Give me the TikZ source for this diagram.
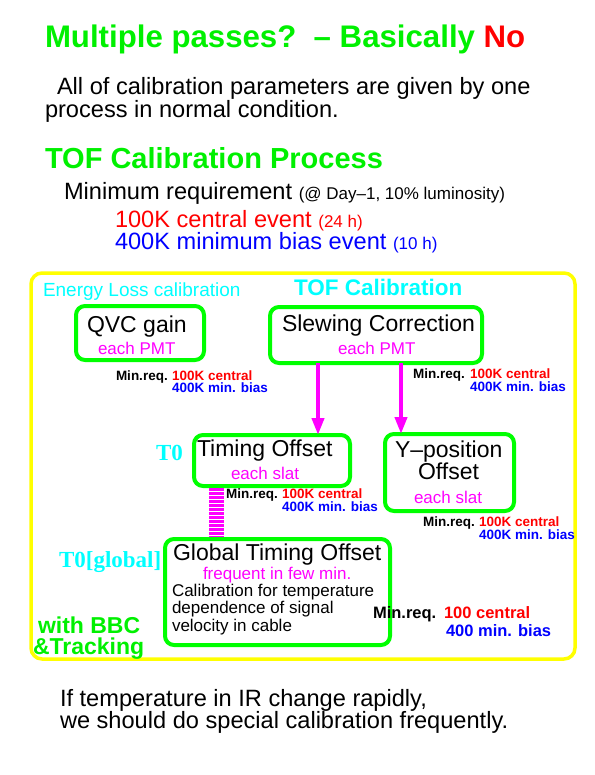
\documentclass[tikz,border=0pt]{standalone}
\usepackage{fontspec}
\setmainfont{Liberation Sans}
\newfontfamily\serifb{Liberation Serif}
\usetikzlibrary{arrows.meta}
\definecolor{lgreen}{RGB}{0,240,0}
\definecolor{bgreen}{RGB}{0,255,0}
\definecolor{cyn}{RGB}{0,255,255}
\definecolor{mag}{RGB}{255,0,255}
\definecolor{rd}{RGB}{255,0,0}
\definecolor{bl}{RGB}{0,0,255}
\definecolor{ylw}{RGB}{255,255,0}
\newcommand\fsz[1]{\fontsize{#1}{#1}\selectfont}
\tikzset{
  txt/.style={anchor=base west, inner sep=0pt, outer sep=0pt},
  gbox/.style={draw=bgreen, line width=4pt, rounded corners=9pt, inner sep=0pt, outer sep=0pt},
  ybox/.style={draw=ylw, line width=3.5pt, rounded corners=11pt, inner sep=0pt, outer sep=0pt},
  arr/.style={draw=mag, line width=4pt, -{Triangle[length=17pt,width=12pt]}},
  stripe/.style={draw=mag, line width=15pt, dash pattern=on 2.5pt off 1.5pt},
  big/.style={font=\fsz{23}},
  main/.style={font=\fsz{23.6}},
  sub/.style={font=\fsz{17}, text=mag},
  mr/.style={font=\fsz{13.5}\bfseries},
  mrb/.style={font=\fsz{16.5}\bfseries},
}
\begin{document}
\begin{tikzpicture}[x=1pt, y=-1pt]
\useasboundingbox (0,0) rectangle (594,775);
\fill[white] (0,0) rectangle (594,775);

% header texts
\node[txt, font=\fsz{31.2}\bfseries, text=lgreen] (title) at (45,48) {Multiple passes?\ \ – Basically \textcolor{rd}{No}};
\node[txt, main] (all1) at (57,95) {All of calibration parameters are given by one};
\node[txt, main] (all2) at (45,118) {process in normal condition.};
\node[txt, font=\fsz{29}\bfseries, text=lgreen] (proc) at (45,169) {TOF Calibration Process};
\node[txt, main] (minreq) at (64,200) {Minimum requirement {\fsz{17}(@ Day–1, 10\% luminosity)}};
\node[txt, main, text=rd] (cent) at (115,228) {100K central event {\fsz{17}(24 h)}};
\node[txt, main, text=bl] (mbias) at (115,250) {400K minimum bias event {\fsz{17}(10 h)}};

% yellow frame
\node[ybox, minimum width=544pt, minimum height=386pt] (frame) at (303,466) {};

\node[txt, font=\fsz{19}, text=cyn] (eloss) at (43,296) {Energy Loss calibration};
\node[txt, font=\fsz{22.5}\bfseries, text=cyn] (tofc) at (294,295) {TOF Calibration};

% boxes
\node[gbox, minimum width=128pt, minimum height=54pt] (qvc) at (140,333) {};
\node[gbox, minimum width=212pt, minimum height=56pt] (slew) at (376,335) {};
\node[gbox, minimum width=156pt, minimum height=51pt] (tim) at (272,460.5) {};
\node[gbox, minimum width=129pt, minimum height=77pt] (ypos) at (449.5,472.5) {};
\node[gbox, minimum width=225pt, minimum height=106pt] (glob) at (277.5,592) {};

% box texts
\node[txt, big] (qvct) at (87,332) {QVC gain};
\node[txt, sub] (qvcs) at (98,354) {each PMT};
\node[txt, big] (slewt) at (282,331) {Slewing Correction};
\node[txt, sub] (slews) at (338,354) {each PMT};
\node[txt, big] (timt) at (197,456) {Timing Offset};
\node[txt, sub] (tims) at (231,479) {each slat};
\node[txt, big] (ypost) at (395,457) {Y–position};
\node[txt, big] (ypost2) at (418,479) {Offset};
\node[txt, sub] (yposs) at (414,503) {each slat};
\node[txt, big] (globt) at (173,560) {Global Timing Offset};
\node[txt, sub] (globs) at (203,579) {frequent in few min.};
\node[txt, font=\fsz{17}] (globa) at (172,596) {Calibration for temperature};
\node[txt, font=\fsz{17}] (globb) at (172,613) {dependence of signal};
\node[txt, font=\fsz{17}] (globc) at (172,631) {velocity in cable};

% side labels
\node[txt, font=\serifb\fsz{23}\bfseries, text=cyn] (t0) at (156,460) {T0};
\node[txt, font=\serifb\fsz{23}\bfseries, text=cyn] (t0g) at (59,567) {T0[global]};
\node[txt, font=\fsz{23}\bfseries, text=lgreen, align=left] (bbc) at (33,654)
  {\hspace*{5pt}with BBC\\[-2pt]\&Tracking};

% min req labels
\node[txt, mr] (m1) at (116,380) {Min.req.};
\node[txt, mr, text=rd] (m1c) at (172,380) {100K central};
\node[txt, mr, text=bl] (m1b) at (172,392) {400K min. bias};
\node[txt, mr] (m2) at (413,378) {Min.req.};
\node[txt, mr, text=rd] (m2c) at (470,378) {100K central};
\node[txt, mr, text=bl] (m2b) at (470,391) {400K min. bias};
\node[txt, mr] (m3) at (226,498) {Min.req.};
\node[txt, mr, text=rd] (m3c) at (282,498) {100K central};
\node[txt, mr, text=bl] (m3b) at (282,511) {400K min. bias};
\node[txt, mr] (m4) at (423,526) {Min.req.};
\node[txt, mr, text=rd] (m4c) at (479,526) {100K central};
\node[txt, mr, text=bl] (m4b) at (479,539) {400K min. bias};
\node[txt, mrb] (m5) at (373,618) {Min.req.};
\node[txt, mrb, text=rd] (m5c) at (444,618) {100 central};
\node[txt, mrb, text=bl] (m5b) at (446,636) {400 min. bias};

% connectors
\coordinate (xa) at (318,0);
\coordinate (xb) at (401,0);
\coordinate (xc) at (216,0);
\draw[arr] (xa |- slew.south) -- (xa |- tim.north);
\draw[arr] (xb |- slew.south) -- (xb |- ypos.north);
\draw[stripe] ([yshift=-2pt]xc |- tim.south) -- ([yshift=2pt]xc |- glob.north);

% bottom text
\node[txt, main] (bot1) at (60,706) {If temperature in IR change rapidly,};
\node[txt, main] (bot2) at (60,728) {we should do special calibration frequently.};
\end{tikzpicture}
\end{document}
